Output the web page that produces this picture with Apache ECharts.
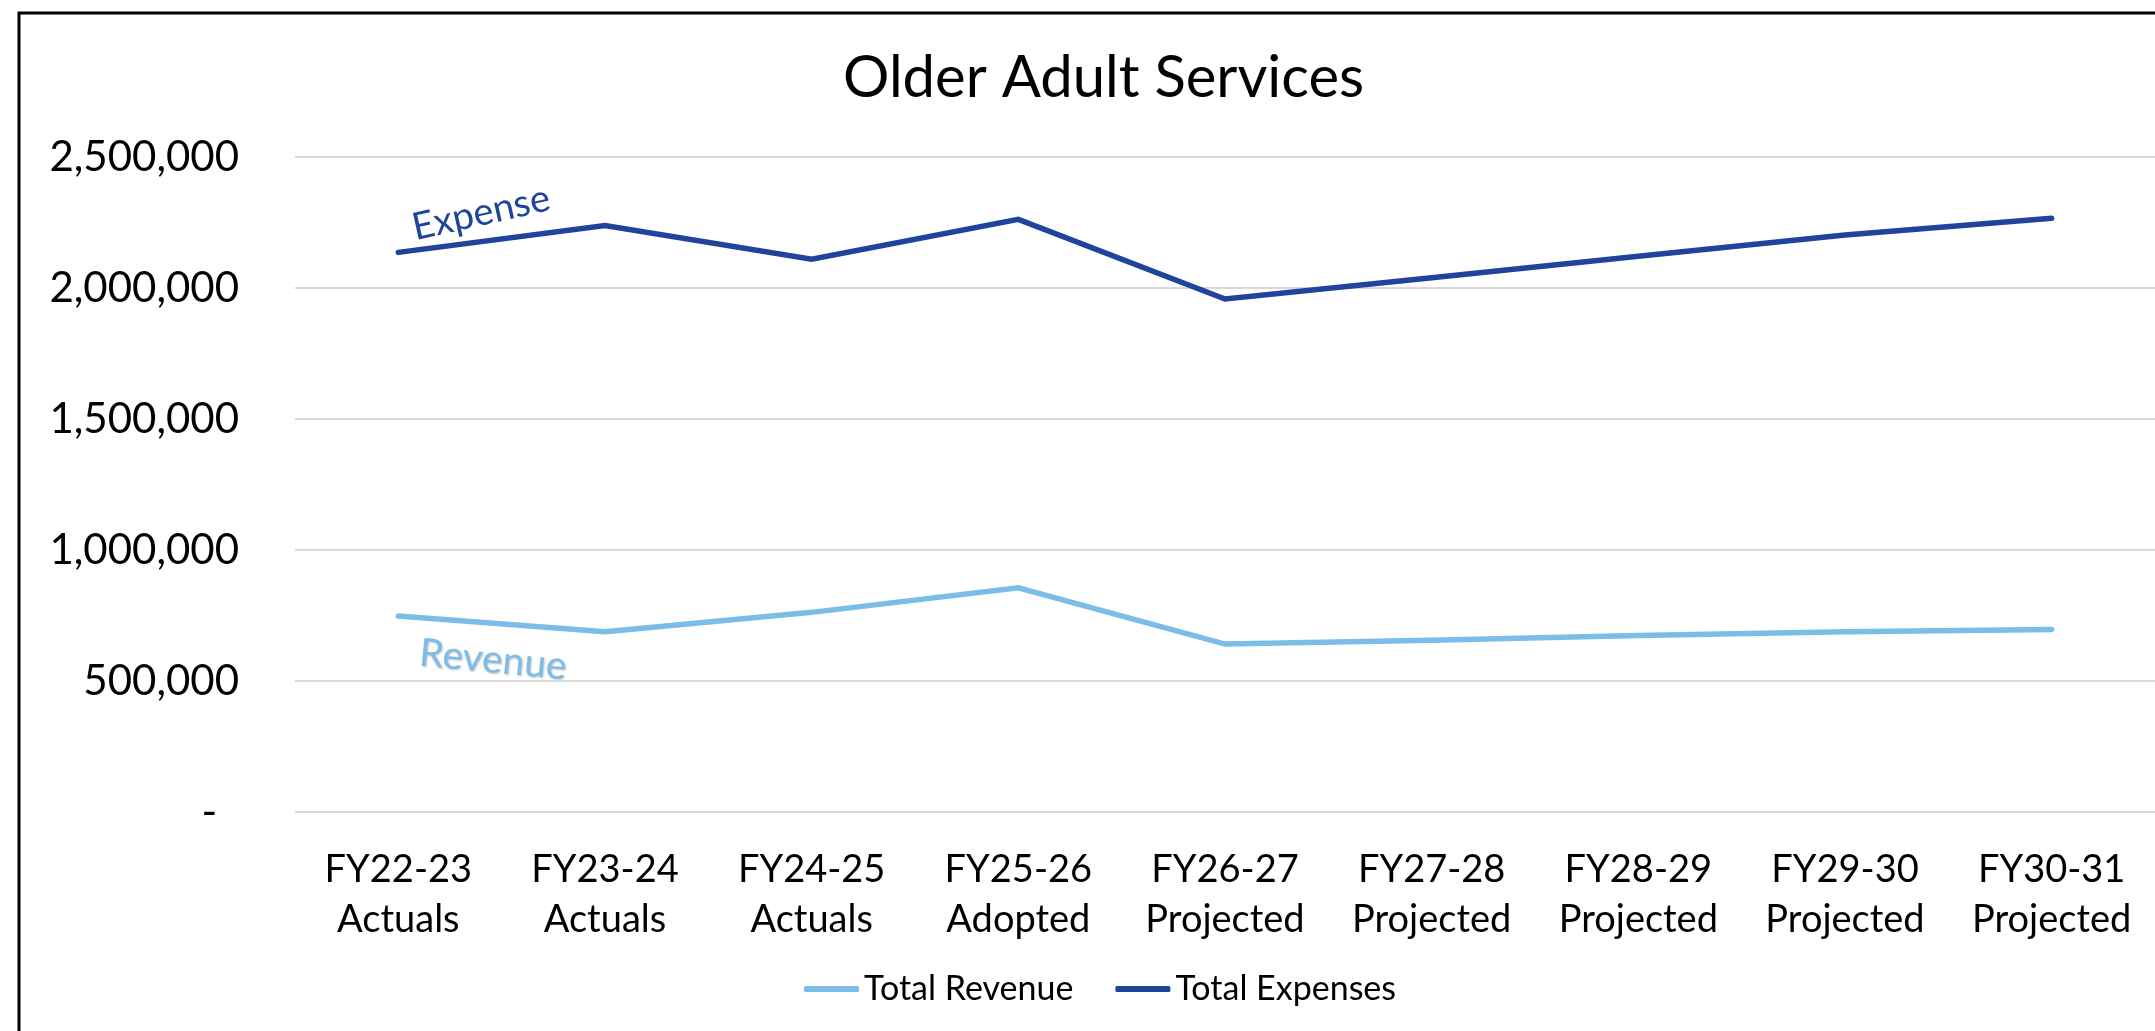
<!DOCTYPE html>
<html>
<head>
<meta charset="utf-8">
<style>
html,body{margin:0;padding:0;background:#fff;}
#chart{width:2155px;height:1031px;}
</style>
<script src="https://cdn.jsdelivr.net/npm/echarts@6/dist/echarts.min.js"></script>
</head>
<body>
<div id="chart"></div>
<script>
const categories = [
  "FY22-23\nActuals", "FY23-24\nActuals", "FY24-25\nActuals", "FY25-26\nAdopted",
  "FY26-27\nProjected", "FY27-28\nProjected", "FY28-29\nProjected", "FY29-30\nProjected", "FY30-31\nProjected"
];
const totalRevenue = [748000, 688000, 762000, 856000, 641000, 656000, 674000, 688000, 697000];
const totalExpenses = [2136000, 2238000, 2110000, 2262000, 1958000, 2039000, 2121000, 2202000, 2266000];
const seriesNames = ["Total Revenue", "Total Expenses"];
const yTicks = [0, 500000, 1000000, 1500000, 2000000, 2500000];

const FONT = "Lato";
const REV_COLOR = "#7cbce8";
const EXP_COLOR = "#1f449c";

const chart = echarts.init(document.getElementById('chart'), null, {renderer: 'canvas'});
chart.setOption({
  backgroundColor: '#ffffff',
  animation: false,
  title: {
    text: 'Older Adult Services',
    left: 838,
    top: 44,
    textStyle: {fontFamily: FONT, fontSize: 58, fontWeight: 'normal', color: '#000'}
  },
  legend: {
    data: seriesNames,
    left: 799,
    top: 967,
    itemWidth: 55,
    itemHeight: 6,
    itemGap: 42,
    icon: 'roundRect',
    textStyle: {fontFamily: FONT, fontSize: 34, color: '#000'}
  },
  grid: {left: 295, right: 0, top: 157, bottom: 219, containLabel: false},
  xAxis: {
    type: 'category',
    data: categories,
    boundaryGap: true,
    axisLine: {show: false},
    axisTick: {show: false},
    axisLabel: {
      interval: 0,
      margin: 33,
      fontFamily: FONT,
      fontSize: 38,
      lineHeight: 50,
      color: '#000'
    }
  },
  yAxis: {
    type: 'value',
    min: yTicks[0],
    max: yTicks[yTicks.length - 1],
    interval: yTicks[1] - yTicks[0],
    axisLine: {show: false},
    axisTick: {show: false},
    splitLine: {lineStyle: {color: '#d9d9d9', width: 2}},
    axisLabel: {
      margin: 56,
      fontFamily: FONT,
      fontSize: 42,
      color: '#000',
      formatter: function (v) {
        if (v === 0) return '{dash|-}';
        return v.toLocaleString('en-US');
      },
      rich: {dash: {fontFamily: FONT, fontSize: 42, color: '#000', padding: [0, 22, 0, 0]}}
    }
  },
  series: [
    {
      name: seriesNames[0],
      type: 'line',
      data: totalRevenue,
      symbol: 'none',
      color: REV_COLOR,
      lineStyle: {color: REV_COLOR, width: 5.5, cap: 'round', join: 'miter'}
    },
    {
      name: seriesNames[1],
      type: 'line',
      data: totalExpenses,
      symbol: 'none',
      color: EXP_COLOR,
      lineStyle: {color: EXP_COLOR, width: 5.5, cap: 'round', join: 'miter'}
    }
  ],
  graphic: [
    {
      type: 'rect',
      shape: {x: 19, y: 13, width: 2400, height: 1400},
      style: {fill: 'none', stroke: '#000', lineWidth: 3},
      silent: true
    },
    {
      type: 'text',
      x: 481, y: 213,
      rotation: 0.22,
      style: {
        text: 'Expense', fontFamily: FONT, fontSize: 38, fill: EXP_COLOR,
        align: 'center', verticalAlign: 'middle'
      }
    },
    {
      type: 'text',
      x: 493, y: 660,
      rotation: -0.094,
      style: {
        text: 'Revenue', fontFamily: FONT, fontSize: 39, fill: REV_COLOR,
        align: 'center', verticalAlign: 'middle',
        textShadowColor: 'rgba(0,0,0,0.25)', textShadowBlur: 2, textShadowOffsetX: 1, textShadowOffsetY: 1
      }
    }
  ]
});
</script>
</body>
</html>
